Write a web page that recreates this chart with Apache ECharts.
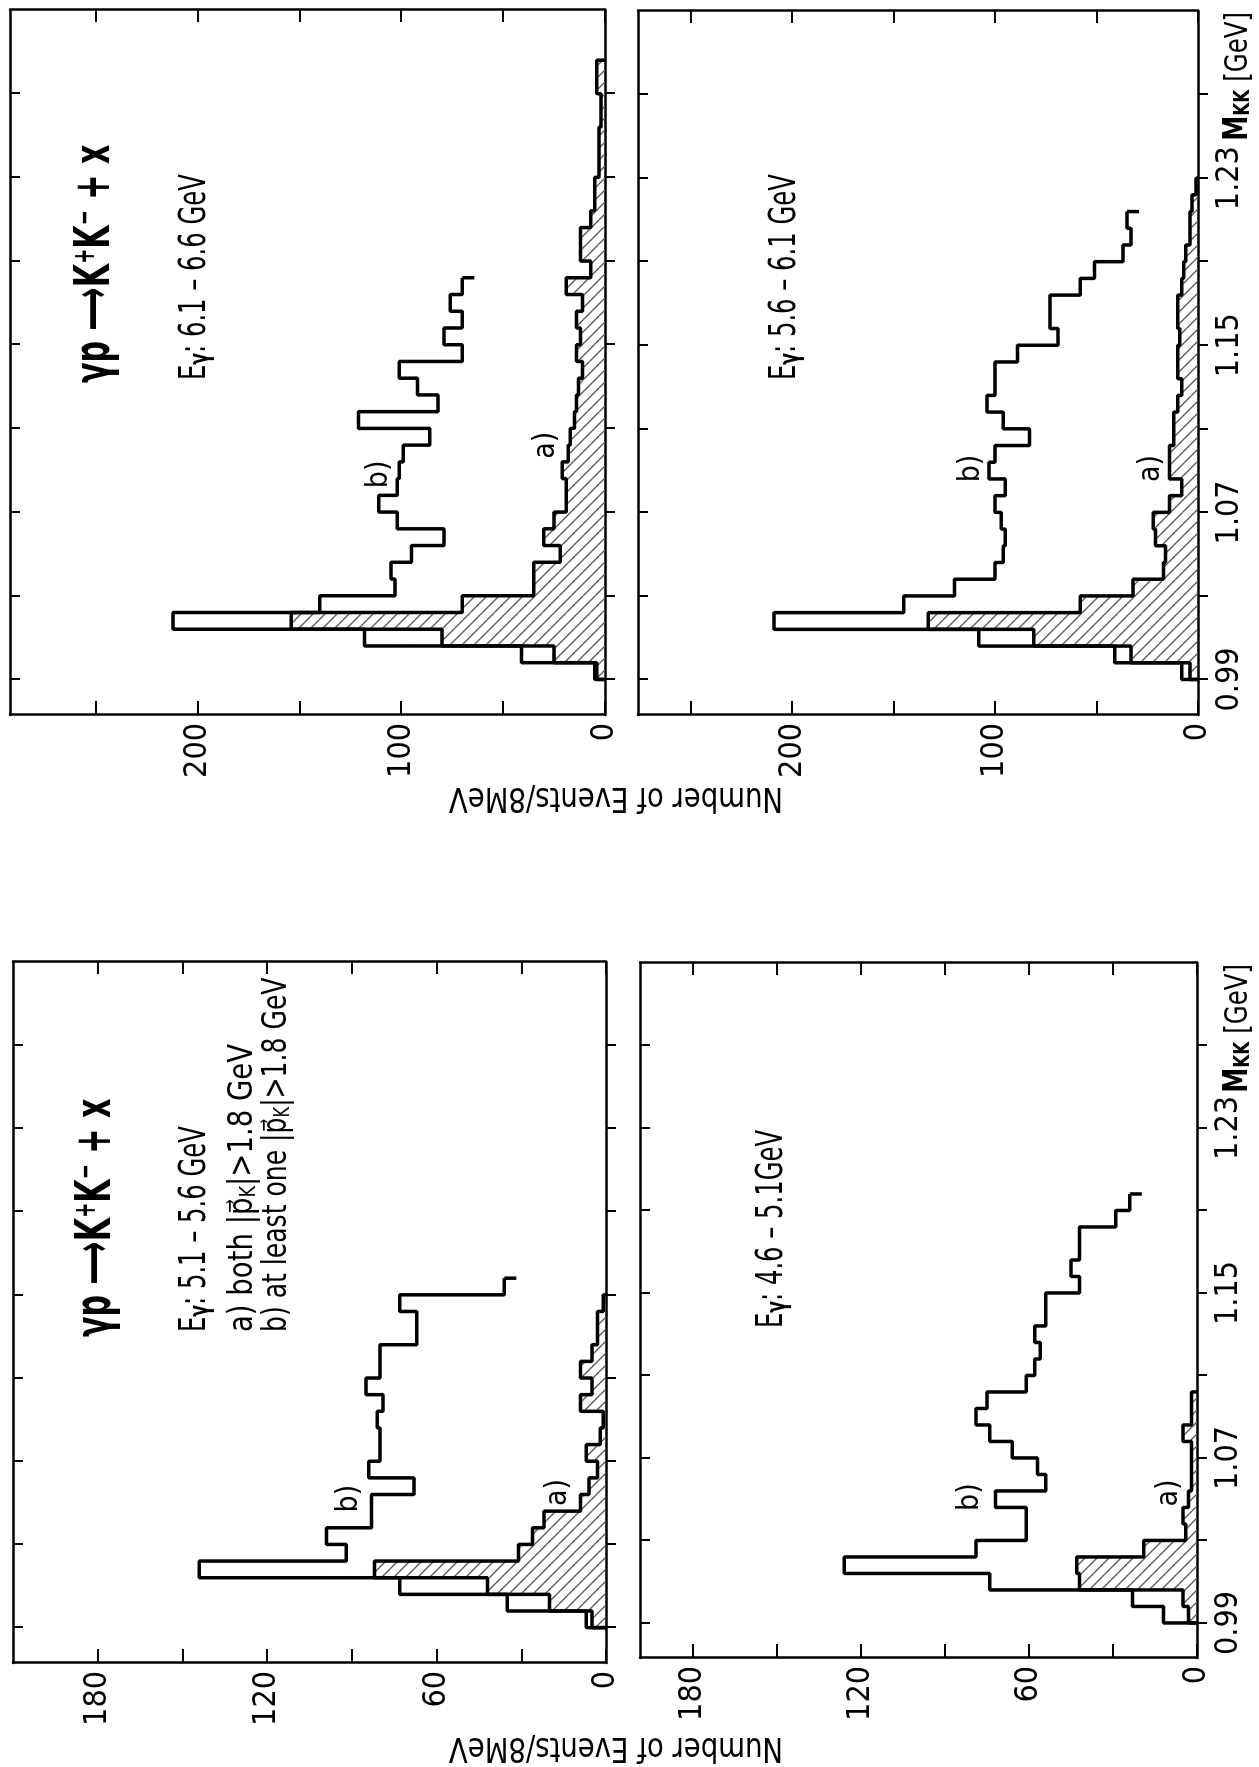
<!DOCTYPE html>
<html>
<head>
<meta charset="utf-8">
<script src="https://cdn.jsdelivr.net/npm/echarts@6/dist/echarts.min.js"></script>
<style>
  html, body { margin: 0; padding: 0; background: #fff; overflow: hidden; width: 1259px; height: 1767px; }
  /* the figure is laid out in landscape and turned a quarter turn to the left on the page */
  #page { position: absolute; left: 0; top: 1767px; width: 1767px; height: 1259px;
          transform-origin: 0 0; transform: rotate(-90deg); background: #fff; }
</style>
</head>
<body>
<div id="page"></div>
<script>
// K+K- invariant mass histograms, 8 MeV bins starting at 0.99 GeV
const BIN_START = 0.99;
const BIN_WIDTH = 0.008;

const massTicks = [0.99, 1.03, 1.07, 1.11, 1.15, 1.19, 1.23, 1.27];
const massTickLabels = [0.99, 1.07, 1.15, 1.23];
const countTicksLow = [0, 30, 60, 90, 120, 150, 180];
const countLabelsLow = [0, 60, 120, 180];
const countTicksHigh = [0, 50, 100, 150, 200, 250];
const countLabelsHigh = [0, 100, 200];

// a) both |p_K| > 1.8 GeV   b) at least one |p_K| > 1.8 GeV
// E_gamma 5.1 - 5.6 GeV
const both_51 = [5, 20, 42, 82, 31, 26, 22, 9, 6, 3, 7, 2, 1, 9, 5, 9, 5, 3, 3, 1];
const any_51  = [7, 35, 73, 144, 92, 99, 83, 83, 68, 84, 80, 80, 81, 79, 85, 80, 80, 67, 67, 73, 36];
// E_gamma 4.6 - 5.1 GeV
const both_46 = [3, 5, 42, 43, 19, 4, 5, 3, 2, 2, 2, 5, 2, 2];
const any_46  = [12, 23, 74, 126, 79, 61, 61, 72, 54, 57, 66, 74, 79, 75, 61, 58, 56, 58, 54, 54, 42, 45, 42, 42, 29, 24];
// E_gamma 6.1 - 6.6 GeV
const both_61 = [4, 25, 80, 154, 70, 35, 35, 22, 30, 25, 19, 19, 21, 18, 17, 15, 14, 13, 11, 14, 12, 14, 11, 19, 7, 12, 12, 7, 5, 5, 3, 3, 3, 2, 2, 4, 4];
const any_61  = [5, 41, 118, 212, 140, 103, 105, 95, 79, 102, 111, 102, 101, 99, 86, 121, 82, 92, 101, 70, 79, 70, 76, 70];
// E_gamma 5.6 - 6.1 GeV
const both_56 = [4, 33, 81, 133, 58, 32, 17, 16, 21, 22, 14, 8, 14, 14, 12, 12, 10, 8, 10, 10, 9, 10, 10, 8, 7, 6, 4, 4, 3, 1];
const any_56  = [8, 41, 108, 209, 145, 120, 100, 96, 95, 97, 100, 95, 103, 100, 83, 96, 104, 100, 100, 89, 69, 73, 73, 58, 51, 37, 33, 35];

const FONT = '"DejaVu Sans Condensed", "DejaVu Sans", "Liberation Sans", sans-serif';
const MASS_MIN = 0.973, MASS_MAX = 1.31;

const panels = [
  { both: both_51, any: any_51, grid: { left: 104, top: 13, width: 701, height: 593 }, cmax: 210,
    ticks: countTicksLow, labels: countLabelsLow, massLabels: false, aPos: [1.055, 17], bPos: [1.052, 91] },
  { both: both_46, any: any_46, grid: { left: 109, top: 640, width: 695, height: 557 }, cmax: 199,
    ticks: countTicksLow, labels: countLabelsLow, massLabels: true, aPos: [1.053, 10], bPos: [1.051, 81] },
  { both: both_61, any: any_61, grid: { left: 1052, top: 10, width: 705, height: 595 }, cmax: 292,
    ticks: countTicksHigh, labels: countLabelsHigh, massLabels: false, aPos: [1.102, 29], bPos: [1.088, 111] },
  { both: both_56, any: any_56, grid: { left: 1052, top: 638, width: 704, height: 560 }, cmax: 276,
    ticks: countTicksHigh, labels: countLabelsHigh, massLabels: true, aPos: [1.091, 23], bPos: [1.091, 112] }
];

function binLow(i) { return +(BIN_START + i * BIN_WIDTH).toFixed(3); }

// outline of a histogram as a polyline through the bin corners
function stepLine(counts, closeEnd) {
  const pts = [[BIN_START, 0]];
  counts.forEach((c, i) => { pts.push([binLow(i), c], [binLow(i + 1), c]); });
  if (closeEnd) pts.push([binLow(counts.length), 0]);
  return pts;
}
function barData(counts) {
  return counts.map((c, i) => [binLow(i), binLow(i + 1), c]);
}

// diagonal hatching used for the "both" sample
function makeHatch() {
  const s = 12;
  const cv = document.createElement('canvas');
  cv.width = s; cv.height = s;
  const g = cv.getContext('2d');
  g.strokeStyle = '#555';
  g.lineWidth = 1.3;
  g.beginPath();
  g.moveTo(-1, -1); g.lineTo(s + 1, s + 1);
  g.moveTo(s - 1, -1); g.lineTo(s + 1, 1);
  g.moveTo(-1, s - 1); g.lineTo(1, s + 1);
  g.stroke();
  return cv;
}
const hatch = { image: makeHatch(), repeat: 'repeat' };

const lineStyleFrame = { color: '#000', width: 2.5 };
const tickStyle = { color: '#000', width: 2 };

const grids = [], xAxes = [], yAxes = [], series = [];
panels.forEach((p, i) => {
  grids.push(Object.assign({ containLabel: false, outerBoundsMode: 'none' }, p.grid));
  xAxes.push({
    gridIndex: i, type: 'value', min: MASS_MIN, max: MASS_MAX, position: 'bottom',
    axisLine: { show: true, onZero: false, lineStyle: lineStyleFrame },
    axisTick: { show: true, inside: false, length: 10, customValues: massTicks, lineStyle: tickStyle },
    axisLabel: { show: p.massLabels, customValues: massTickLabels, formatter: v => v.toFixed(2),
                 margin: 16, fontSize: 32, fontFamily: FONT, color: '#000' },
    splitLine: { show: false }
  });
  xAxes.push({
    gridIndex: i, type: 'value', min: MASS_MIN, max: MASS_MAX, position: 'top',
    axisLine: { show: true, onZero: false, lineStyle: lineStyleFrame },
    axisTick: { show: true, inside: true, length: 10, customValues: massTicks, lineStyle: tickStyle },
    axisLabel: { show: false }, splitLine: { show: false }
  });
  yAxes.push({
    gridIndex: i, type: 'value', min: 0, max: p.cmax, position: 'left',
    axisLine: { show: true, onZero: false, lineStyle: lineStyleFrame },
    axisTick: { show: true, inside: true, length: 14, customValues: p.ticks, lineStyle: tickStyle },
    axisLabel: { show: true, customValues: p.labels, margin: 8, fontSize: 32, fontFamily: FONT, color: '#000' },
    splitLine: { show: false }
  });
  yAxes.push({
    gridIndex: i, type: 'value', min: 0, max: p.cmax, position: 'right',
    axisLine: { show: true, onZero: false, lineStyle: lineStyleFrame },
    axisTick: { show: true, inside: true, length: 12, customValues: p.ticks, lineStyle: tickStyle },
    axisLabel: { show: false }, splitLine: { show: false }
  });

  const xi = 2 * i, yi = 2 * i;
  const tag = (txt, pos) => ({
    symbol: 'circle', symbolSize: 0, silent: true, animation: false,
    label: { show: true, position: 'inside', formatter: txt, fontSize: 30, fontFamily: FONT, color: '#000' },
    data: [{ coord: pos }]
  });
  series.push({
    type: 'custom', xAxisIndex: xi, yAxisIndex: yi, data: barData(p.both), silent: true, z: 1,
    encode: { x: [0, 1], y: 2 },
    renderItem: (params, api) => {
      const lo = api.coord([api.value(0), 0]);
      const hi = api.coord([api.value(1), api.value(2)]);
      return { type: 'rect', shape: { x: lo[0], y: hi[1], width: hi[0] - lo[0], height: lo[1] - hi[1] },
               style: { fill: hatch, stroke: null } };
    }
  });
  series.push({
    type: 'line', xAxisIndex: xi, yAxisIndex: yi, data: stepLine(p.both, true), symbol: 'none', z: 3,
    lineStyle: { color: '#000', width: 3.5 }, silent: true, markPoint: tag('a)', p.aPos)
  });
  series.push({
    type: 'line', xAxisIndex: xi, yAxisIndex: yi, data: stepLine(p.any, false), symbol: 'none', z: 3,
    lineStyle: { color: '#000', width: 3.5 }, silent: true, markPoint: tag('b)', p.bPos)
  });
  // short closing tick where the open histogram ends
  const last = p.any.length;
  series.push({
    type: 'custom', xAxisIndex: xi, yAxisIndex: yi, silent: true, z: 3,
    data: [[binLow(last), p.any[last - 1]]],
    encode: { x: 0, y: 1 },
    renderItem: (params, api) => {
      const pt = api.coord([api.value(0), api.value(1)]);
      return { type: 'line', shape: { x1: pt[0], y1: pt[1], x2: pt[0], y2: pt[1] + 12 },
               style: { stroke: '#000', lineWidth: 3.5 } };
    }
  });
});

// annotation text blocks (condensed horizontally to suit the narrow lettering)
const richBase = {
  t: { fontSize: 38, fontFamily: FONT, verticalAlign: 'bottom' },
  l: { fontSize: 34, fontFamily: FONT, verticalAlign: 'bottom' },
  g: { fontSize: 27, fontFamily: FONT, fontWeight: 'bold', verticalAlign: 'bottom' },
  r: { fontSize: 50, fontFamily: FONT, fontWeight: 'bold', verticalAlign: 'bottom' },
  ar: { fontSize: 50, fontFamily: FONT, fontWeight: 'bold', verticalAlign: 'bottom' },
  sp: { fontSize: 30, fontFamily: FONT, fontWeight: 'bold', verticalAlign: 'top' },
  s: { fontSize: 22, fontFamily: FONT, verticalAlign: 'bottom' },
  m: { fontSize: 33, fontFamily: FONT, fontWeight: 'bold', verticalAlign: 'bottom' },
  k: { fontSize: 22, fontFamily: FONT, fontWeight: 'bold', verticalAlign: 'bottom' },
  u: { fontSize: 32, fontFamily: FONT, verticalAlign: 'bottom' }
};
function label(x, y, text, sx, align) {
  return { type: 'text', x: x, y: y, scaleX: sx, silent: true,
           style: { text: text, rich: richBase, align: align || 'left', verticalAlign: 'middle', fill: '#000' } };
}
const titleText = '{r|γp }{ar|⟶}{r|K}{sp|+}{r|K}{sp|−}{r| + x}';
const eLine = range => '{t|E}{g|γ}{t|: ' + range + '}';
const massName = '{m|M}{k|KK}{u| [GeV]}';
const graphics = [
  label(430, 97, titleText, 0.67),
  label(435, 195, eLine('5.1 – 5.6 GeV'), 0.71),
  label(435, 243, '{l|a) both |p⃗}{s|K}{l||>1.8 GeV}', 0.9),
  label(435, 277, '{l|b) at least one |p⃗}{s|K}{l||>1.8 GeV}', 0.82),
  label(439, 772, eLine('4.6 – 5.1GeV'), 0.71),
  label(1384, 96, titleText, 0.67),
  label(1387, 195, eLine('6.1 – 6.6 GeV'), 0.71),
  label(1387, 785, eLine('5.6 – 6.1 GeV'), 0.71),
  label(803, 1238, massName, 0.85, 'right'),
  label(1755, 1238, massName, 0.85, 'right'),
  { type: 'text', x: 20, y: 616, rotation: Math.PI / 2, scaleX: 0.9, silent: true,
    style: { text: 'Number of Events/8MeV', align: 'center', verticalAlign: 'middle',
             fontSize: 34, fontFamily: FONT, fill: '#000' } },
  { type: 'text', x: 970, y: 616, rotation: Math.PI / 2, scaleX: 0.9, silent: true,
    style: { text: 'Number of Events/8MeV', align: 'center', verticalAlign: 'middle',
             fontSize: 34, fontFamily: FONT, fill: '#000' } }
];

const chart = echarts.init(document.getElementById('page'), null, { renderer: 'canvas', width: 1767, height: 1259 });
chart.setOption({
  animation: false,
  backgroundColor: '#fff',
  grid: grids,
  xAxis: xAxes,
  yAxis: yAxes,
  series: series,
  graphic: graphics
});
</script>
</body>
</html>
